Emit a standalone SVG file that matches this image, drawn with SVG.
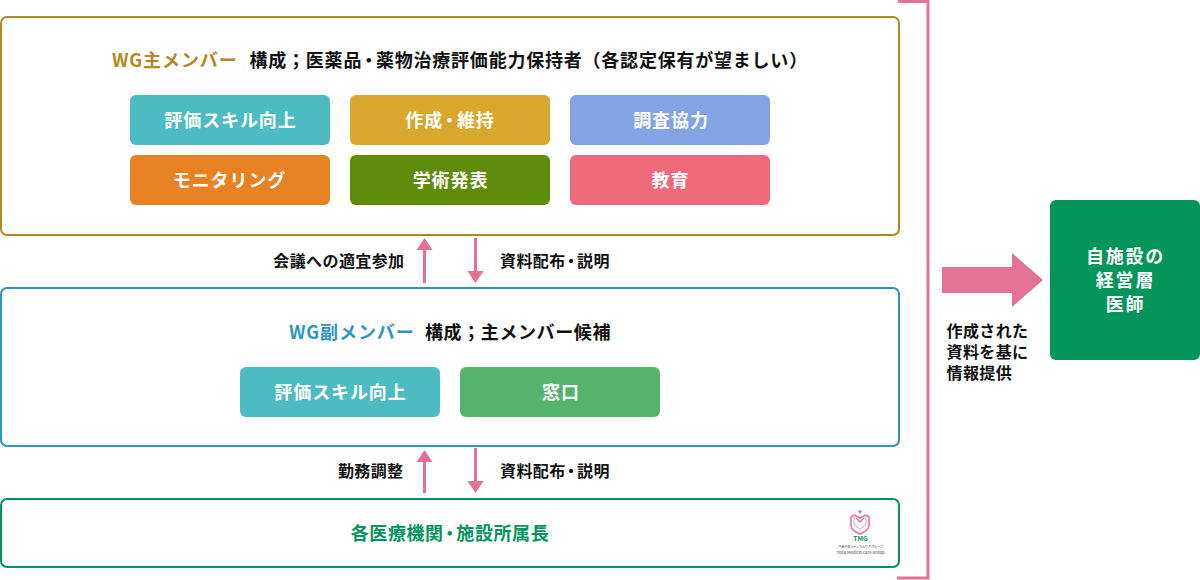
<svg xmlns="http://www.w3.org/2000/svg" width="1200" height="580" viewBox="0 0 1200 580">
<style>
text{font-family:"Noto Sans CJK JP","Noto Sans",sans-serif;font-weight:700}
.dot{font-feature-settings:"palt"}
.panel{fill:#fff;stroke-width:2}
.chip{font-size:18px;fill:#fff;text-anchor:middle;letter-spacing:.9px}
.big{font-size:18px;fill:#fff;text-anchor:middle;letter-spacing:1.8px}
.head{font-size:18px;letter-spacing:.9px}
.lbl{font-size:16px;fill:#111;letter-spacing:.4px}
.pink{fill:#e37295}
</style>
<g id="main-members">
<rect class="panel" x="1" y="17" width="898" height="218" rx="6" stroke="#b48624"/>
<text class="head" x="112" y="66.500" fill="#b48624">WG主メンバー</text>
<text class="head" x="249.500" y="66.500" fill="#111" style="letter-spacing:.78px">構成；医薬品<tspan class="dot" dx="2">・</tspan><tspan dx="2">薬物治療評価能力保持者（各認定保有が望ましい）</tspan></text>
</g>
<g id="chip-eval1"><rect x="130" y="95" width="200" height="50" rx="6" fill="#4dbbc2"/><text class="chip" x="230.500" y="126.500">評価スキル向上</text></g>
<g id="chip-create"><rect x="350" y="95" width="200" height="50" rx="6" fill="#d9a72c"/><text class="chip" x="450" y="126.500">作成<tspan class="dot" dx="2">・</tspan><tspan dx="2">維持</tspan></text></g>
<g id="chip-survey"><rect x="570" y="95" width="200" height="50" rx="6" fill="#82a3e4"/><text class="chip" x="671" y="126.500">調査協力</text></g>
<g id="chip-monitor"><rect x="130" y="155" width="200" height="50" rx="6" fill="#e88024"/><text class="chip" x="229.500" y="186.500">モニタリング</text></g>
<g id="chip-academic"><rect x="350" y="155" width="200" height="50" rx="6" fill="#608c0c"/><text class="chip" x="450.500" y="186.500">学術発表</text></g>
<g id="chip-edu"><rect x="570" y="155" width="200" height="50" rx="6" fill="#ef6a79"/><text class="chip" x="670.500" y="186.500">教育</text></g>
<g id="sub-members">
<rect class="panel" x="1" y="288" width="898" height="158" rx="6" stroke="#2e94c8"/>
<text class="head" x="289" y="338.500" fill="#2e94c8">WG副メンバー</text>
<text class="head" x="425" y="338.500" fill="#111" style="letter-spacing:.6px">構成；主メンバー候補</text>
</g>
<g id="chip-eval2"><rect x="240" y="367" width="200" height="50" rx="6" fill="#4dbbc2"/><text class="chip" x="340.500" y="398.500">評価スキル向上</text></g>
<g id="chip-window"><rect x="460" y="367" width="200" height="50" rx="6" fill="#54b36d"/><text class="chip" x="561" y="398.500">窓口</text></g>
<g id="dept-heads">
<rect class="panel" x="1" y="499" width="898" height="68" rx="6" stroke="#03955a"/>
<text class="head" x="450" y="539.500" fill="#03955a" text-anchor="middle" style="letter-spacing:.6px">各医療機関<tspan class="dot" dx="1.500">・</tspan><tspan dx="1.500">施設所属長</tspan></text>
<g id="logo">
<path d="M851 517l3-2 6 3 6-3 3 2v9q0 4-9 8q-9-4-9-8z" fill="#fff" stroke="#ec6a96" stroke-width="1.500"/>
<path d="M854 515v8q0 3 6 6q6-3 6-6v-8" fill="none" stroke="#f29bb6" stroke-width="1"/>
<path d="M856 518l4 4 4-4" fill="none" stroke="#ec6a96" stroke-width="1.200"/>
<circle cx="860" cy="511.500" r="1.500" fill="#ec6a96"/>
<text x="860.500" y="541" font-size="6.500" text-anchor="middle" fill="#03955a">TMG</text>
<text x="860.500" y="548" font-size="3" text-anchor="middle" fill="#777" font-weight="400">戸田中央メディカルケアグループ</text>
<text x="860.500" y="554" font-size="4" text-anchor="middle" fill="#888" font-weight="400">Toda Medical care Group</text>
</g>
</g>
<g id="connectors">
<path class="pink" d="M423 283V250h-6.500l8-12 8 12H426v33z"/>
<path class="pink" d="M474 238h3v33h6.500l-8 12-8-12H474z"/>
<path class="pink" d="M423 493V462h-6.500l8-12 8 12H426v31z"/>
<path class="pink" d="M474 448h3v33h6.500l-8 12-8-12H474z"/>
<path d="M898 1.500H928V578H897" fill="none" stroke="#e37295" stroke-width="3"/>
<path class="pink" d="M942 267h70v-14l31 27-31 27v-14h-70z"/>
</g>
<g id="labels">
<text class="lbl" x="404.500" y="266.500" text-anchor="end">会議への適宜参加</text>
<text class="lbl" x="500" y="266.500">資料配布<tspan class="dot" dx="1.500">・</tspan><tspan dx="1.500">説明</tspan></text>
<text class="lbl" x="403.500" y="476.500" text-anchor="end">勤務調整</text>
<text class="lbl" x="500" y="476.500">資料配布<tspan class="dot" dx="1.500">・</tspan><tspan dx="1.500">説明</tspan></text>
<text class="lbl" x="946.500" y="336.500">作成された</text>
<text class="lbl" x="946.500" y="357.500">資料を基に</text>
<text class="lbl" x="946.500" y="378.500">情報提供</text>
</g>
<g id="managers">
<rect x="1050" y="200" width="150" height="160" rx="6" fill="#03955a"/>
<text class="big" x="1125.500" y="262.500">自施設の</text>
<text class="big" x="1125.500" y="287">経営層</text>
<text class="big" x="1125.500" y="311">医師</text>
</g>
</svg>
